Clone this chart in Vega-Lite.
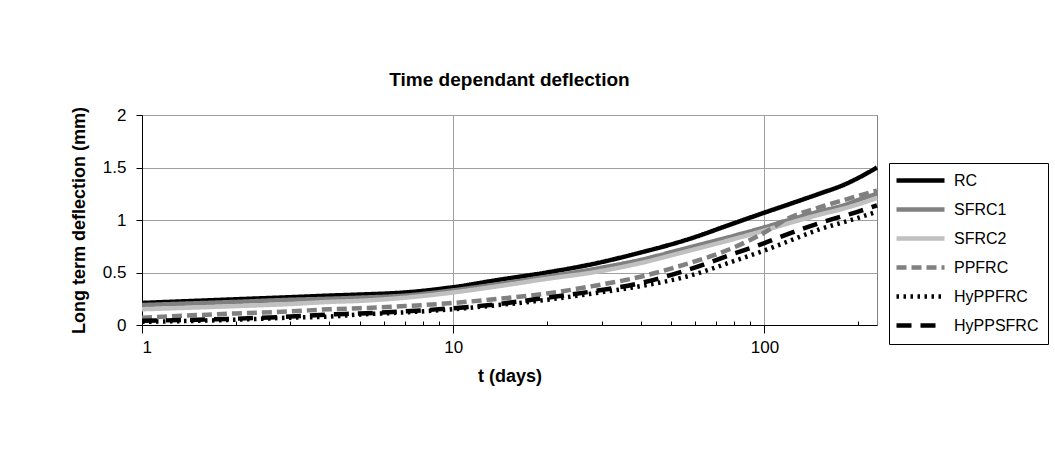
{
  "$schema": "https://vega.github.io/schema/vega-lite/v6.json",
  "autosize": {"type": "none"},
  "padding": {"left": 142, "top": 115, "right": 178, "bottom": 128},
  "width": 735,
  "height": 210,
  "background": "white",
  "title": {
    "text": "Time dependant deflection",
    "font": "Liberation Sans",
    "fontSize": 19,
    "fontWeight": "bold",
    "color": "black",
    "anchor": "middle",
    "frame": "group",
    "baseline": "bottom",
    "offset": -3
  },
  "config": {
    "font": "Liberation Sans",
    "view": {"stroke": "#808080", "strokeWidth": 1},
    "axis": {
      "labelFont": "Liberation Sans",
      "labelFontSize": 17,
      "labelColor": "black",
      "titleFont": "Liberation Sans",
      "titleFontSize": 18,
      "titleFontWeight": "bold",
      "titleColor": "black",
      "domainColor": "black",
      "tickColor": "black",
      "gridColor": "#a0a0a0",
      "gridWidth": 1
    }
  },
  "data": {
    "values": [
      {"series": "RC", "t": 1, "d": 0.21}, {"series": "RC", "t": 2, "d": 0.245}, {"series": "RC", "t": 3, "d": 0.265}, {"series": "RC", "t": 4, "d": 0.28}, {"series": "RC", "t": 5, "d": 0.29}, {"series": "RC", "t": 7, "d": 0.31}, {"series": "RC", "t": 10, "d": 0.36}, {"series": "RC", "t": 14, "d": 0.43}, {"series": "RC", "t": 20, "d": 0.5}, {"series": "RC", "t": 28, "d": 0.58}, {"series": "RC", "t": 40, "d": 0.69}, {"series": "RC", "t": 56, "d": 0.81}, {"series": "RC", "t": 80, "d": 0.97}, {"series": "RC", "t": 100, "d": 1.07}, {"series": "RC", "t": 120, "d": 1.15}, {"series": "RC", "t": 150, "d": 1.25}, {"series": "RC", "t": 180, "d": 1.335}, {"series": "RC", "t": 200, "d": 1.4}, {"series": "RC", "t": 230, "d": 1.5},
      {"series": "SFRC1", "t": 1, "d": 0.19}, {"series": "SFRC1", "t": 2, "d": 0.22}, {"series": "SFRC1", "t": 3, "d": 0.24}, {"series": "SFRC1", "t": 4, "d": 0.25}, {"series": "SFRC1", "t": 5, "d": 0.26}, {"series": "SFRC1", "t": 7, "d": 0.28}, {"series": "SFRC1", "t": 10, "d": 0.33}, {"series": "SFRC1", "t": 14, "d": 0.39}, {"series": "SFRC1", "t": 20, "d": 0.46}, {"series": "SFRC1", "t": 28, "d": 0.53}, {"series": "SFRC1", "t": 40, "d": 0.62}, {"series": "SFRC1", "t": 56, "d": 0.73}, {"series": "SFRC1", "t": 80, "d": 0.85}, {"series": "SFRC1", "t": 100, "d": 0.93}, {"series": "SFRC1", "t": 120, "d": 1.0}, {"series": "SFRC1", "t": 150, "d": 1.08}, {"series": "SFRC1", "t": 180, "d": 1.14}, {"series": "SFRC1", "t": 200, "d": 1.19}, {"series": "SFRC1", "t": 230, "d": 1.25},
      {"series": "SFRC2", "t": 1, "d": 0.15}, {"series": "SFRC2", "t": 2, "d": 0.18}, {"series": "SFRC2", "t": 3, "d": 0.2}, {"series": "SFRC2", "t": 4, "d": 0.22}, {"series": "SFRC2", "t": 5, "d": 0.23}, {"series": "SFRC2", "t": 7, "d": 0.26}, {"series": "SFRC2", "t": 10, "d": 0.31}, {"series": "SFRC2", "t": 14, "d": 0.37}, {"series": "SFRC2", "t": 20, "d": 0.44}, {"series": "SFRC2", "t": 28, "d": 0.5}, {"series": "SFRC2", "t": 40, "d": 0.59}, {"series": "SFRC2", "t": 56, "d": 0.7}, {"series": "SFRC2", "t": 80, "d": 0.82}, {"series": "SFRC2", "t": 100, "d": 0.9}, {"series": "SFRC2", "t": 120, "d": 0.97}, {"series": "SFRC2", "t": 150, "d": 1.05}, {"series": "SFRC2", "t": 180, "d": 1.11}, {"series": "SFRC2", "t": 200, "d": 1.15}, {"series": "SFRC2", "t": 230, "d": 1.21},
      {"series": "PPFRC", "t": 1, "d": 0.07}, {"series": "PPFRC", "t": 2, "d": 0.11}, {"series": "PPFRC", "t": 3, "d": 0.13}, {"series": "PPFRC", "t": 4, "d": 0.15}, {"series": "PPFRC", "t": 5, "d": 0.16}, {"series": "PPFRC", "t": 7, "d": 0.18}, {"series": "PPFRC", "t": 10, "d": 0.21}, {"series": "PPFRC", "t": 14, "d": 0.25}, {"series": "PPFRC", "t": 20, "d": 0.3}, {"series": "PPFRC", "t": 28, "d": 0.37}, {"series": "PPFRC", "t": 40, "d": 0.46}, {"series": "PPFRC", "t": 56, "d": 0.58}, {"series": "PPFRC", "t": 80, "d": 0.74}, {"series": "PPFRC", "t": 100, "d": 0.88}, {"series": "PPFRC", "t": 120, "d": 1.02}, {"series": "PPFRC", "t": 150, "d": 1.12}, {"series": "PPFRC", "t": 180, "d": 1.19}, {"series": "PPFRC", "t": 200, "d": 1.23}, {"series": "PPFRC", "t": 230, "d": 1.28},
      {"series": "HyPPFRC", "t": 1, "d": 0.03}, {"series": "HyPPFRC", "t": 2, "d": 0.05}, {"series": "HyPPFRC", "t": 3, "d": 0.07}, {"series": "HyPPFRC", "t": 4, "d": 0.08}, {"series": "HyPPFRC", "t": 5, "d": 0.1}, {"series": "HyPPFRC", "t": 7, "d": 0.12}, {"series": "HyPPFRC", "t": 10, "d": 0.15}, {"series": "HyPPFRC", "t": 14, "d": 0.19}, {"series": "HyPPFRC", "t": 20, "d": 0.24}, {"series": "HyPPFRC", "t": 28, "d": 0.3}, {"series": "HyPPFRC", "t": 40, "d": 0.37}, {"series": "HyPPFRC", "t": 56, "d": 0.46}, {"series": "HyPPFRC", "t": 80, "d": 0.61}, {"series": "HyPPFRC", "t": 100, "d": 0.71}, {"series": "HyPPFRC", "t": 120, "d": 0.8}, {"series": "HyPPFRC", "t": 150, "d": 0.91}, {"series": "HyPPFRC", "t": 180, "d": 0.98}, {"series": "HyPPFRC", "t": 200, "d": 1.02}, {"series": "HyPPFRC", "t": 230, "d": 1.08},
      {"series": "HyPPSFRC", "t": 1, "d": 0.04}, {"series": "HyPPSFRC", "t": 2, "d": 0.06}, {"series": "HyPPSFRC", "t": 3, "d": 0.08}, {"series": "HyPPSFRC", "t": 4, "d": 0.1}, {"series": "HyPPSFRC", "t": 5, "d": 0.11}, {"series": "HyPPSFRC", "t": 7, "d": 0.13}, {"series": "HyPPSFRC", "t": 10, "d": 0.16}, {"series": "HyPPSFRC", "t": 14, "d": 0.2}, {"series": "HyPPSFRC", "t": 20, "d": 0.26}, {"series": "HyPPSFRC", "t": 28, "d": 0.32}, {"series": "HyPPSFRC", "t": 40, "d": 0.4}, {"series": "HyPPSFRC", "t": 56, "d": 0.52}, {"series": "HyPPSFRC", "t": 80, "d": 0.68}, {"series": "HyPPSFRC", "t": 100, "d": 0.78}, {"series": "HyPPSFRC", "t": 120, "d": 0.87}, {"series": "HyPPSFRC", "t": 150, "d": 0.97}, {"series": "HyPPSFRC", "t": 180, "d": 1.04}, {"series": "HyPPSFRC", "t": 200, "d": 1.08}, {"series": "HyPPSFRC", "t": 230, "d": 1.14}
    ]
  },
  "mark": {"type": "line", "strokeCap": "butt", "interpolate": "monotone"},
  "encoding": {
    "x": {
      "field": "t",
      "type": "quantitative",
      "scale": {"type": "log", "domain": [1, 230], "nice": false},
      "axis": {
        "title": "t (days)",
        "values": [1, 2, 3, 4, 5, 6, 7, 8, 9, 10, 20, 30, 40, 50, 60, 70, 80, 90, 100, 200],
        "labelExpr": "(datum.value == 1 || datum.value == 10 || datum.value == 100) ? datum.value : ''",
        "labelOverlap": false,
        "labelPadding": 6,
        "tickSize": {"condition": {"test": "datum.value == 1 || datum.value == 10 || datum.value == 100", "value": 8}, "value": -4},
        "gridOpacity": {"condition": {"test": "datum.value == 10 || datum.value == 100", "value": 1}, "value": 0},
        "titlePadding": 12
      }
    },
    "y": {
      "field": "d",
      "type": "quantitative",
      "scale": {"domain": [0, 2], "nice": false},
      "axis": {
        "title": "Long term deflection (mm)",
        "values": [0, 0.5, 1, 1.5, 2],
        "format": ".1~f",
        "tickSize": 6,
        "labelPadding": 10,
        "titlePadding": 14
      }
    },
    "color": {
      "field": "series",
      "type": "nominal",
      "scale": {"domain": ["RC", "SFRC1", "SFRC2", "PPFRC", "HyPPFRC", "HyPPSFRC"], "range": ["#000000", "#808080", "#c0c0c0", "#808080", "#000000", "#000000"]},
      "legend": {
        "title": null,
        "orient": "none",
        "legendX": 747,
        "legendY": 48,
        "symbolType": "M-4,0L4,0",
        "symbolSize": 144,
        "symbolOffset": 14,
        "labelFontSize": 16,
        "labelFont": "Liberation Sans",
        "labelColor": "black",
        "labelOffset": 25,
        "padding": 9,
        "strokeColor": "black",
        "fillColor": "white",
        "rowPadding": 10
      }
    },
    "strokeWidth": {
      "field": "series",
      "type": "nominal",
      "scale": {"domain": ["RC", "SFRC1", "SFRC2", "PPFRC", "HyPPFRC", "HyPPSFRC"], "range": [4.5, 4.5, 4.5, 3.5, 2.5, 3.5]},
      "legend": null
    },
    "strokeDash": {
      "field": "series",
      "type": "nominal",
      "scale": {"domain": ["RC", "SFRC1", "SFRC2", "PPFRC", "HyPPFRC", "HyPPSFRC"], "range": [[1, 0], [1, 0], [1, 0], [10, 5], [2.5, 4.5], [15, 9]]},
      "legend": null
    },
    "order": {"field": "t", "type": "quantitative"}
  }
}
